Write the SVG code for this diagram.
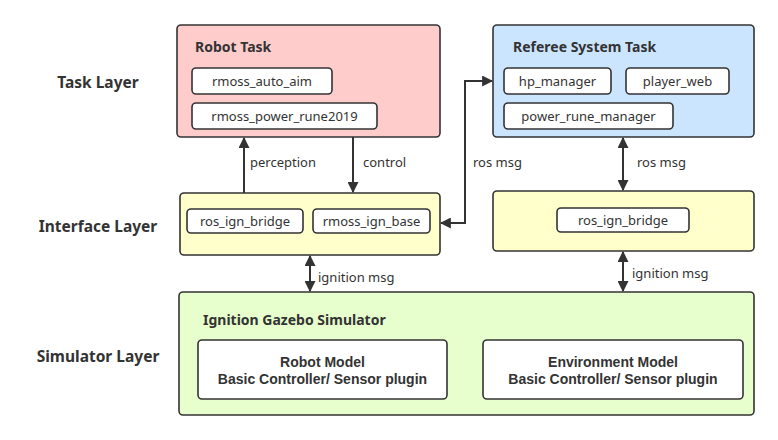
<svg xmlns="http://www.w3.org/2000/svg" width="778" height="440" viewBox="0 0 778 440">
<defs>
<marker id="ah" viewBox="0 0 10 10" refX="9" refY="5" markerWidth="5.5" markerHeight="5.5" orient="auto-start-reverse" markerUnits="strokeWidth">
<path d="M0,0 L10,5 L0,10 z" fill="#333"/>
</marker>
<style>
.big{stroke:#333;stroke-width:1.6}
.small{fill:#fff;stroke:#333;stroke-width:1.6}
.t{font-family:"Noto Sans","Open Sans","DejaVu Sans",sans-serif;font-size:13px;fill:#333}
.b{font-family:"Noto Sans","Open Sans","DejaVu Sans",sans-serif;font-size:14px;font-weight:bold;fill:#333}
.m{font-family:"Liberation Sans",Arial,sans-serif;font-size:14px;font-weight:bold;fill:#333}
.layer{font-family:"Noto Sans","Open Sans","DejaVu Sans",sans-serif;font-size:15.5px;font-weight:bold;fill:#333}
.c{fill:none;stroke:#333;stroke-width:2}
</style>
</defs>
<rect width="778" height="440" fill="#fff"/>
<g id="layers">
<text class="layer" x="98" y="88" text-anchor="middle">Task Layer</text>
<text class="layer" x="98" y="232" text-anchor="middle">Interface Layer</text>
<text class="layer" x="98" y="362" text-anchor="middle">Simulator Layer</text>
</g>
<g id="robot-task">
<rect class="big" x="177" y="25" width="263" height="112" rx="4" fill="#ffcccc"/>
<text class="b" x="195" y="52">Robot Task</text>
<rect class="small" x="192" y="68" width="140" height="26" rx="4"/>
<text class="t" x="262" y="86" text-anchor="middle">rmoss_auto_aim</text>
<rect class="small" x="192" y="103" width="185" height="26" rx="4"/>
<text class="t" x="284.5" y="121" text-anchor="middle">rmoss_power_rune2019</text>
</g>
<g id="referee-task">
<rect class="big" x="493" y="25" width="261" height="112" rx="4" fill="#cce5ff"/>
<text class="b" x="513" y="52">Referee System Task</text>
<rect class="small" x="504" y="68" width="107" height="26" rx="4"/>
<text class="t" x="557.5" y="86" text-anchor="middle">hp_manager</text>
<rect class="small" x="626" y="68" width="103" height="26" rx="4"/>
<text class="t" x="677.5" y="86" text-anchor="middle">player_web</text>
<rect class="small" x="504" y="103" width="169" height="26" rx="4"/>
<text class="t" x="588.5" y="121" text-anchor="middle">power_rune_manager</text>
</g>
<g id="interface-left">
<rect class="big" x="180" y="193" width="260" height="62" rx="4" fill="#ffffcc"/>
<rect class="small" x="187" y="209" width="116" height="24" rx="4"/>
<text class="t" x="245" y="226" text-anchor="middle">ros_ign_bridge</text>
<rect class="small" x="313" y="209" width="117" height="24" rx="4"/>
<text class="t" x="371.5" y="226" text-anchor="middle">rmoss_ign_base</text>
</g>
<g id="interface-right">
<rect class="big" x="493" y="191" width="261" height="60" rx="4" fill="#ffffcc"/>
<rect class="small" x="557" y="208" width="132" height="24" rx="4"/>
<text class="t" x="623" y="225" text-anchor="middle">ros_ign_bridge</text>
</g>
<g id="simulator">
<rect class="big" x="179" y="292" width="575" height="123" rx="4" fill="#e6ffcc"/>
<text class="b" x="203" y="325">Ignition Gazebo Simulator</text>
<rect class="small" x="198" y="340" width="249" height="59" rx="4"/>
<text class="m" text-anchor="middle"><tspan x="322.5" y="367">Robot Model</tspan><tspan x="322.5" y="384">Basic Controller/ Sensor plugin</tspan></text>
<rect class="small" x="483" y="340" width="260" height="59" rx="4"/>
<text class="m" text-anchor="middle"><tspan x="613" y="367">Environment Model</tspan><tspan x="613" y="384">Basic Controller/ Sensor plugin</tspan></text>
</g>
<g id="connectors">
<path class="c" d="M244,193 V138" marker-end="url(#ah)"/>
<path class="c" d="M353,137 V192" marker-end="url(#ah)"/>
<path class="c" d="M441,223 H465 V81 H492" marker-start="url(#ah)" marker-end="url(#ah)"/>
<path class="c" d="M623,138 V190" marker-start="url(#ah)" marker-end="url(#ah)"/>
<path class="c" d="M310,256 V291" marker-start="url(#ah)" marker-end="url(#ah)"/>
<path class="c" d="M623,252 V291" marker-start="url(#ah)" marker-end="url(#ah)"/>
<text class="t" x="250" y="167">perception</text>
<text class="t" x="363" y="167">control</text>
<text class="t" x="473" y="167">ros msg</text>
<text class="t" x="637" y="167">ros msg</text>
<text class="t" x="318" y="282">ignition msg</text>
<text class="t" x="632" y="278">ignition msg</text>
</g>
</svg>
